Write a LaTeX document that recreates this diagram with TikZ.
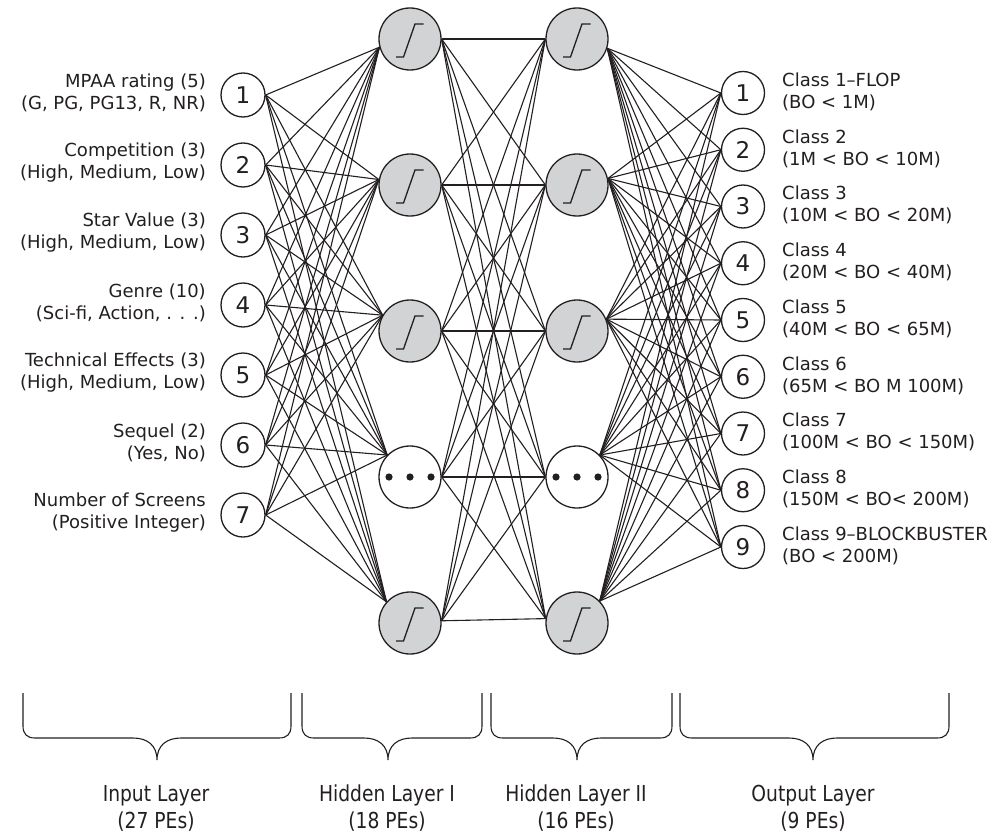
\documentclass[tikz,border=0pt]{standalone}
\usepackage{fontspec}
\setmainfont{DejaVu Sans}
\usetikzlibrary{calc}
\definecolor{ink}{HTML}{231F20}
\definecolor{nodegray}{HTML}{D2D3D5}
\newcommand\layerbrace[3]{%
  \draw[bracestyle] (#1,693) -- (#1,726) .. controls (#1,734) and ({#1+4},738) .. ({#1+12},738)
    -- ({#3-24},738) .. controls ({#3-10},738) and (#3,745) .. (#3,760)
    .. controls (#3,745) and ({#3+10},738) .. ({#3+24},738)
    -- ({#2-12},738) .. controls ({#2-4},738) and (#2,734) .. (#2,726) -- (#2,693);}
\begin{document}
\begin{tikzpicture}[x=1pt,y=-1pt,
  inn/.style={circle, draw=ink, line width=1.3pt, minimum size=44pt, inner sep=0pt,
    font=\fontsize{23}{23}\selectfont, text=ink, fill=white},
  outn/.style={inn, minimum size=43pt},
  hid/.style={circle, draw=ink, fill=nodegray, line width=1.3pt, minimum size=62pt, inner sep=0pt},
  dotsnode/.style={circle, draw=ink, fill=white, line width=1.3pt, minimum size=62pt, inner sep=0pt},
  conn/.style={draw=ink, line width=1.1pt},
  lab/.style={font=\fontsize{18}{22}\selectfont, text=ink, inner sep=0pt},
  blab/.style={font=\fontsize{22}{27}\selectfont, text=ink, inner sep=0pt, align=center},
  bracestyle/.style={draw=ink, line width=1.1pt},
  sig/.style={draw=ink, line width=1.3pt}
]
\useasboundingbox (0,0) rectangle (1003,832);

% input nodes
\foreach \i in {1,...,7} {
  \node[inn] (in\i) at (243,{95+70*(\i-1)}) {\i};
}
% output nodes
\foreach \i in {1,...,9} {
  \node[outn] (o\i) at (743,{93+56.75*(\i-1)}) {\i};
}
% hidden nodes
\foreach \i in {1,2,3,5} {
  \node[hid] (h\i) at (410,{39+146*(\i-1)}) {};
  \node[hid] (g\i) at (577,{39+146*(\i-1)}) {};
}
\node[dotsnode] (h4) at (410,477) {};
\node[dotsnode] (g4) at (577,477) {};

% sigmoid glyphs
\foreach \n in {h1,h2,h3,h5,g1,g2,g3,g5} {
  \draw[sig] ([shift={(-14,18)}]\n.center) -- ++(7.5,0) -- ++(11.5,-33) -- ++(8.5,0);
}
% dots
\foreach \n in {h4,g4} {
  \foreach \dx in {-21,0,21} {
    \fill[ink] ([shift={(\dx,0)}]\n.center) circle (3.6pt);
  }
}

% input -> hidden I
\foreach \j/\a in {1/195,2/170,3/150,4/136,5/138} {
  \foreach \i in {1,...,7} {
    \draw[conn] (in\i.east) -- (h\j.\a);
  }
}
% hidden I -> hidden II
\foreach \j/\a in {1/180,2/180,3/180,4/180,5/172} {
  \foreach \i/\b in {1/0,2/0,3/0,4/0,5/4} {
    \draw[conn] (h\i.\b) -- (g\j.\a);
  }
}
% hidden II -> output
\foreach \j/\b in {1/343,2/12,3/22,4/44,5/44} {
  \foreach \k in {1,...,9} {
    \draw[conn] (g\j.\b) -- (o\k.west);
  }
}

% input labels
\node[lab, anchor=east, align=right] (l1) at (206,93) {MPAA rating (5)\\(G, PG, PG13, R, NR)};
\node[lab, anchor=east, align=right] (l2) at (206,163) {Competition (3)\\(High, Medium, Low)};
\node[lab, anchor=east, align=right] (l3) at (206,233) {Star Value (3)\\(High, Medium, Low)};
\node[lab, anchor=east, align=right] (l4) at (206,303) {Genre (10)\\(Sci-fi, Action, . . .)};
\node[lab, anchor=east, align=right] (l5) at (206,373) {Technical Effects (3)\\(High, Medium, Low)};
\node[lab, anchor=east, align=right] (l6) at (206,443) {Sequel (2)\\(Yes, No)};
\node[lab, anchor=east, align=right] (l7) at (206,513) {Number of Screens\\(Positive Integer)};

% output labels
\node[lab, anchor=west, align=left] (r1) at (782,92) {Class 1--FLOP\\(BO < 1M)};
\node[lab, anchor=west, align=left] (r2) at (782,149) {Class 2\\(1M < BO < 10M)};
\node[lab, anchor=west, align=left] (r3) at (782,205) {Class 3\\(10M < BO < 20M)};
\node[lab, anchor=west, align=left] (r4) at (782,262) {Class 4\\(20M < BO < 40M)};
\node[lab, anchor=west, align=left] (r5) at (782,319) {Class 5\\(40M < BO < 65M)};
\node[lab, anchor=west, align=left] (r6) at (782,376) {Class 6\\(65M < BO M 100M)};
\node[lab, anchor=west, align=left] (r7) at (782,432) {Class 7\\(100M < BO < 150M)};
\node[lab, anchor=west, align=left] (r8) at (782,489) {Class 8\\(150M < BO< 200M)};
\node[lab, anchor=west, align=left] (r9) at (782,546) {Class 9--BLOCKBUSTER\\(BO < 200M)};

% braces
\layerbrace{23}{291}{157}
\layerbrace{302}{482}{388}
\layerbrace{491}{672}{577}
\layerbrace{680}{949}{813}

% layer labels
\node[blab] (b1) at (156,808) {\scalebox{0.85}[1]{Input Layer}\\\scalebox{0.85}[1]{(27 PEs)}};
\node[blab] (b2) at (387,808) {\scalebox{0.85}[1]{Hidden Layer I}\\\scalebox{0.85}[1]{(18 PEs)}};
\node[blab] (b3) at (576,808) {\scalebox{0.85}[1]{Hidden Layer II}\\\scalebox{0.85}[1]{(16 PEs)}};
\node[blab] (b4) at (813,808) {\scalebox{0.85}[1]{Output Layer}\\\scalebox{0.85}[1]{(9 PEs)}};
\end{tikzpicture}
\end{document}
